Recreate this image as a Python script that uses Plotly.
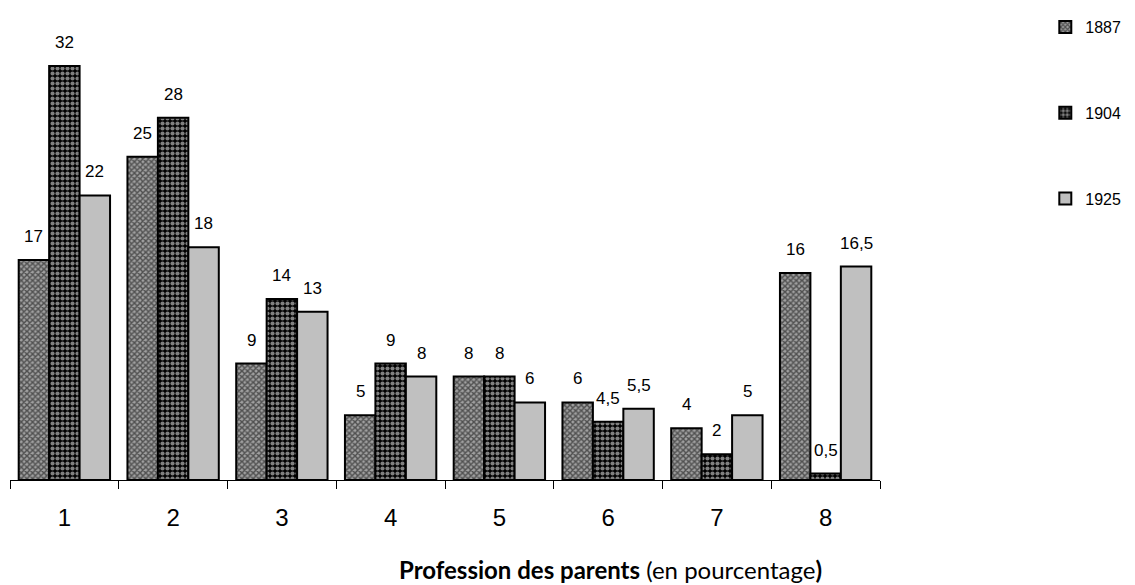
import plotly.graph_objects as go

categories = ["1", "2", "3", "4", "5", "6", "7", "8"]
series_names = ["1887", "1904", "1925"]
v1887 = [17, 25, 9, 5, 8, 6, 4, 16]
v1904 = [32, 28, 14, 9, 8, 4.5, 2, 0.5]
v1925 = [22, 18, 13, 8, 6, 5.5, 5, 16.5]

def lab(v):
    return str(v).replace(".", ",") if v != int(v) else str(int(v))

styles = [
    dict(color="#ffffff", pattern=dict(shape="x", size=4, solidity=0.6, fgcolor="#000000", bgcolor="#a0a0a0")),
    dict(color="#000000", pattern=dict(shape=".", size=5, solidity=0.55, fgcolor="#ffffff", bgcolor="#000000")),
    dict(color="#c0c0c0"),
]

W, H = 1127, 577
L, R, T, B = 2, 255, 12, 105
bargap = 0.16
cat_px = (W - L - R) / len(categories)
bar_px = cat_px * (1 - bargap) / 3

fig = go.Figure()
annotations = []
for i, (name, vals) in enumerate(zip(series_names, [v1887, v1904, v1925])):
    m = dict(styles[i])
    m["line"] = dict(color="#000000", width=2)
    fig.add_trace(go.Bar(
        x=categories, y=vals, name=name, legendgroup=name,
        marker=m,
    ))
    for j, v in enumerate(vals):
        annotations.append(dict(
            x=j, y=v, xref="x", yref="y", text=lab(v), showarrow=False,
            xshift=(i - 1) * bar_px, yshift=12, yanchor="bottom",
            font=dict(family="Liberation Sans, Arial", size=17, color="#000000"),
        ))

annotations.append(dict(
    text="<b>Profession des parents</b> (en pourcentage<b>)</b>",
    x=0.69, y=-0.198, xref="paper", yref="paper", showarrow=False,
    xanchor="center", yanchor="middle",
    font=dict(family="Lato, Open Sans", size=24, color="#000000"),
))

fig.update_layout(
    width=W, height=H,
    margin=dict(l=L, r=R, t=T, b=B),
    paper_bgcolor="white", plot_bgcolor="white",
    barmode="group", bargap=bargap, bargroupgap=0,
    font=dict(family="Liberation Sans, Arial", color="#000000"),
    showlegend=True,
    legend=dict(x=1.19, y=1.035, xanchor="left", yanchor="top",
                tracegroupgap=62, font=dict(size=16),
                itemwidth=30),
    xaxis=dict(type="category", showline=True, linecolor="#000000", linewidth=1,
               ticks="outside", tickson="boundaries", ticklen=8, tickcolor="#000000",
               tickfont=dict(size=24), ticklabelstandoff=16, showgrid=False,
               range=[-0.5, 7.5]),
    yaxis=dict(range=[0, 35.1], visible=False, showgrid=False),
    annotations=annotations,
)

fig.write_html("out.html")
